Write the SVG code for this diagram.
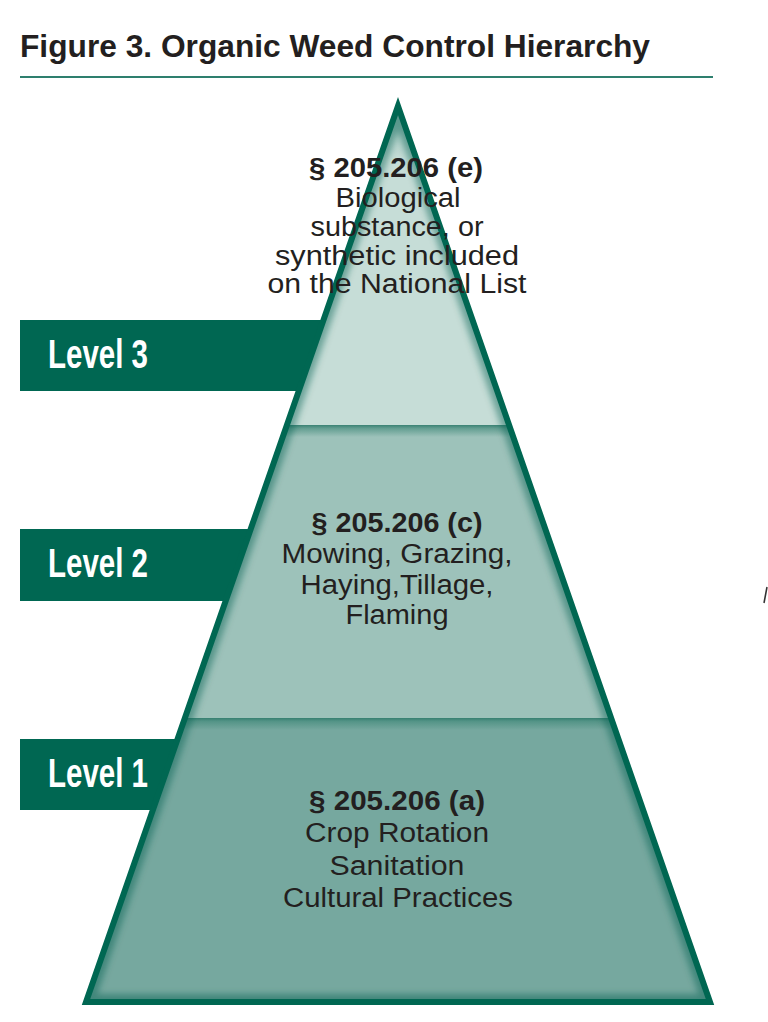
<svg xmlns="http://www.w3.org/2000/svg" width="768" height="1022" viewBox="0 0 768 1022">
  <style>
    .title { font-family: "Liberation Sans", Arial, sans-serif; font-weight: bold; font-size: 32px; fill: #231f20; }
    .lvl { font-family: "Liberation Sans", Arial, sans-serif; font-weight: bold; font-size: 40px; fill: #ffffff; }
    .sec { font-family: "Liberation Sans", Arial, sans-serif; font-weight: bold; font-size: 27px; fill: #231f20; text-anchor: middle; }
    .body { font-family: "Liberation Sans", Arial, sans-serif; font-size: 27px; fill: #231f20; text-anchor: middle; }
    .tab { fill: #006752; }
  </style>
  <defs>
    <clipPath id="tri">
      <polygon points="398,106 86,1002 710,1002"/>
    </clipPath>
    <filter id="blur" x="-10%" y="-10%" width="120%" height="120%">
      <feGaussianBlur stdDeviation="3"/>
    </filter>
    <linearGradient id="divShade" x1="0" y1="0" x2="0" y2="1">
      <stop offset="0" stop-color="#2f7a6b" stop-opacity="0.9"/>
      <stop offset="0.3" stop-color="#3f8878" stop-opacity="0.6"/>
      <stop offset="1" stop-color="#3f8878" stop-opacity="0"/>
    </linearGradient>
    <linearGradient id="topShade" x1="0" y1="0" x2="0" y2="1">
      <stop offset="0" stop-color="#5c9d90"/>
      <stop offset="1" stop-color="#c6ddd7"/>
    </linearGradient>
  </defs>

  <rect width="768" height="1022" fill="#ffffff"/>

  <g id="title">
    <text class="title" x="20" y="57" textLength="630" lengthAdjust="spacingAndGlyphs">Figure 3. Organic Weed Control Hierarchy</text>
    <line x1="20" y1="77" x2="713" y2="77" stroke="#2e7f6e" stroke-width="2"/>
  </g>

  <g id="level-tabs">
    <g id="tab-level3">
      <rect class="tab" x="20" y="320" width="320" height="71"/>
      <text class="lvl" x="48" y="368" textLength="100" lengthAdjust="spacingAndGlyphs">Level 3</text>
    </g>
    <g id="tab-level2">
      <rect class="tab" x="20" y="529" width="260" height="72"/>
      <text class="lvl" x="48" y="577" textLength="100" lengthAdjust="spacingAndGlyphs">Level 2</text>
    </g>
    <g id="tab-level1">
      <rect class="tab" x="20" y="739" width="200" height="71"/>
      <text class="lvl" x="48" y="787" textLength="100" lengthAdjust="spacingAndGlyphs">Level 1</text>
    </g>
  </g>

  <g id="pyramid">
    <g clip-path="url(#tri)">
      <rect id="band-level3" x="0" y="90" width="768" height="335" fill="#c6ddd7"/>
      <rect x="0" y="90" width="768" height="70" fill="url(#topShade)" opacity="0.6"/>
      <rect id="band-level2" x="0" y="425" width="768" height="293" fill="#9dc2ba"/>
      <rect id="band-level1" x="0" y="718" width="768" height="290" fill="#76a89f"/>
      <rect x="0" y="425" width="768" height="12" fill="url(#divShade)"/>
      <rect x="0" y="718" width="768" height="12" fill="url(#divShade)"/>
      <polygon points="398,106 86,1002 710,1002" fill="none" stroke="#0b5e4d" stroke-opacity="0.45" stroke-width="16" filter="url(#blur)"/>
    </g>
    <polygon points="398,106 86,1002 710,1002" fill="none" stroke="#006752" stroke-width="6" stroke-linejoin="miter" stroke-miterlimit="10"/>
  </g>

  <g id="node-level3">
    <text class="sec" x="396" y="177" textLength="174" lengthAdjust="spacingAndGlyphs">§ 205.206 (e)</text>
    <text class="body" x="398" y="207" textLength="125" lengthAdjust="spacingAndGlyphs">Biological</text>
    <text class="body" x="397" y="236" textLength="173" lengthAdjust="spacingAndGlyphs">substance, or</text>
    <text class="body" x="397" y="265" textLength="244" lengthAdjust="spacingAndGlyphs">synthetic included</text>
    <text class="body" x="397" y="293" textLength="259" lengthAdjust="spacingAndGlyphs">on the National List</text>
  </g>

  <g id="node-level2">
    <text class="sec" x="397" y="532" textLength="171" lengthAdjust="spacingAndGlyphs">§ 205.206 (c)</text>
    <text class="body" x="397" y="563" textLength="231" lengthAdjust="spacingAndGlyphs">Mowing, Grazing,</text>
    <text class="body" x="397" y="594" textLength="193" lengthAdjust="spacingAndGlyphs">Haying,Tillage,</text>
    <text class="body" x="397" y="624" textLength="103" lengthAdjust="spacingAndGlyphs">Flaming</text>
  </g>

  <g id="node-level1">
    <text class="sec" x="397" y="810" textLength="176" lengthAdjust="spacingAndGlyphs">§ 205.206 (a)</text>
    <text class="body" x="397" y="842" textLength="184" lengthAdjust="spacingAndGlyphs">Crop Rotation</text>
    <text class="body" x="397" y="875" textLength="135" lengthAdjust="spacingAndGlyphs">Sanitation</text>
    <text class="body" x="398" y="907" textLength="230" lengthAdjust="spacingAndGlyphs">Cultural Practices</text>
  </g>

  <g id="connectors"></g>

  <line id="stray-mark" x1="767" y1="587" x2="764" y2="603" stroke="#333333" stroke-width="1.5"/>
</svg>
